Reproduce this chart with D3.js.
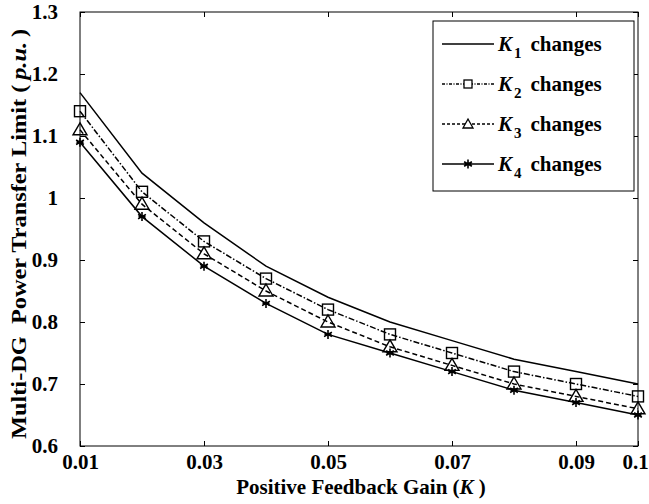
<!DOCTYPE html>
<html>
<head>
<meta charset="utf-8">
<script src="https://cdn.jsdelivr.net/npm/d3@7"></script>
<style>
  body { margin: 0; background: #fff; }
  text { font-family: "Liberation Serif", "Times New Roman", serif; font-weight: bold; }
</style>
</head>
<body>
<svg id="chart" width="649" height="504"></svg>
<script>
// values
const gains = [0.01, 0.02, 0.03, 0.04, 0.05, 0.06, 0.07, 0.08, 0.09, 0.1];
const k1 = [1.17, 1.04, 0.96, 0.89, 0.84, 0.80, 0.77, 0.74, 0.72, 0.70];
const k2 = [1.14, 1.01, 0.93, 0.87, 0.82, 0.78, 0.75, 0.72, 0.70, 0.68];
const k3 = [1.11, 0.99, 0.91, 0.85, 0.80, 0.76, 0.73, 0.70, 0.68, 0.66];
const k4 = [1.09, 0.97, 0.89, 0.83, 0.78, 0.75, 0.72, 0.69, 0.67, 0.65];
const xTicks = [0.01, 0.03, 0.05, 0.07, 0.09, 0.1];
const yTicks = [0.6, 0.7, 0.8, 0.9, 1.0, 1.1, 1.2, 1.3];

const series = [
  { sub: "1", values: k1, dash: null, marker: null },
  { sub: "2", values: k2, dash: "6,2,1.5,2", marker: "square" },
  { sub: "3", values: k3, dash: "5,3", marker: "triangle" },
  { sub: "4", values: k4, dash: null, marker: "star" }
];

const svg = d3.select("#chart");
const pLeft = 80, pRight = 638, pTop = 12, pBottom = 446;

const x = d3.scaleLinear().domain([0.01, 0.1]).range([pLeft, pRight]);
const y = d3.scaleLinear().domain([0.6, 1.3]).range([pBottom, pTop]);

// frame
svg.append("rect")
  .attr("x", pLeft).attr("y", pTop)
  .attr("width", pRight - pLeft).attr("height", pBottom - pTop)
  .attr("fill", "none").attr("stroke", "#000").attr("stroke-width", 1);

// axes with inward ticks
const fmtX = d => d === 0.1 ? "0.1" : d3.format(".2f")(d);
const fmtY = d => d === 1 ? "1" : d3.format(".1f")(d);

const gx = svg.append("g").attr("transform", `translate(0,${pBottom})`)
  .call(d3.axisBottom(x).tickValues(xTicks).tickFormat(fmtX).tickSizeInner(-5).tickSizeOuter(0).tickPadding(8));
const gxTop = svg.append("g").attr("transform", `translate(0,${pTop})`)
  .call(d3.axisTop(x).tickValues(xTicks).tickFormat("").tickSizeInner(-5).tickSizeOuter(0));
const gy = svg.append("g").attr("transform", `translate(${pLeft},0)`)
  .call(d3.axisLeft(y).tickValues(yTicks).tickFormat(fmtY).tickSizeInner(-5).tickSizeOuter(0).tickPadding(22));
const gyRight = svg.append("g").attr("transform", `translate(${pRight},0)`)
  .call(d3.axisRight(y).tickValues(yTicks).tickFormat("").tickSizeInner(-5).tickSizeOuter(0));

[gx, gxTop, gy, gyRight].forEach(g => {
  g.select(".domain").remove();
  g.selectAll("line").attr("stroke", "#000");
  g.selectAll("text").attr("font-size", 21).attr("fill", "#000")
    .attr("font-family", "Liberation Serif").attr("font-weight", "bold");
});
// last x label sits against the right edge
gx.selectAll("text").filter(d => d === 0.1).attr("dx", -3);

// axis titles
svg.append("text")
  .attr("x", 361).attr("y", 494)
  .attr("text-anchor", "middle").attr("font-size", 21)
  .html('Positive Feedback Gain (<tspan font-style="italic">K</tspan> )');

svg.append("text")
  .attr("transform", `translate(26,234) rotate(-90)`)
  .attr("text-anchor", "middle").attr("font-size", 20)
  .attr("textLength", 410).attr("lengthAdjust", "spacingAndGlyphs")
  .html('Multi-DG&#160; Power Transfer Limit (&#8201;<tspan font-style="italic">p.u.</tspan>&#8201;)');

// markers
function drawMarker(g, type, cx, cy) {
  if (type === "square") {
    g.append("rect").attr("x", cx - 5.5).attr("y", cy - 5.5)
      .attr("width", 11).attr("height", 11)
      .attr("fill", "none").attr("stroke", "#000").attr("stroke-width", 1.4);
  } else if (type === "triangle") {
    g.append("path")
      .attr("d", `M${cx},${cy - 7}L${cx + 7},${cy + 5}L${cx - 7},${cy + 5}Z`)
      .attr("fill", "none").attr("stroke", "#000").attr("stroke-width", 1.4);
  } else if (type === "star") {
    const r = 4.5;
    const d = [0, 60, 120].map(a => {
      const t = (a + 90) * Math.PI / 180;
      return `M${cx - r * Math.cos(t)},${cy - r * Math.sin(t)}L${cx + r * Math.cos(t)},${cy + r * Math.sin(t)}`;
    }).join("") + `M${cx - 3.5},${cy}L${cx + 3.5},${cy}`;
    g.append("path").attr("d", d).attr("stroke", "#000").attr("stroke-width", 1.6);
  }
}

const line = d3.line().x((d, i) => x(gains[i])).y(d => y(d));

series.forEach(s => {
  const g = svg.append("g");
  g.append("path")
    .attr("d", line(s.values))
    .attr("fill", "none").attr("stroke", "#000").attr("stroke-width", 1.5)
    .attr("stroke-dasharray", s.dash);
  if (s.marker) {
    s.values.forEach((v, i) => drawMarker(g, s.marker, x(gains[i]), y(v)));
  }
});

// legend
const lg = svg.append("g");
lg.append("rect")
  .attr("x", 433).attr("y", 21).attr("width", 201).attr("height", 170)
  .attr("fill", "#fff").attr("stroke", "#000").attr("stroke-width", 1);

series.forEach((s, i) => {
  const ly = 44 + i * 40;
  lg.append("line")
    .attr("x1", 442).attr("x2", 494).attr("y1", ly).attr("y2", ly)
    .attr("stroke", "#000").attr("stroke-width", 1.5)
    .attr("stroke-dasharray", s.dash ? (s.marker === "square" ? "3,1.5,1,1.5" : "3,2") : null);
  if (s.marker) {
    const m = lg.append("g");
    if (s.marker === "square") {
      m.append("rect").attr("x", 464).attr("y", ly - 4).attr("width", 8).attr("height", 8)
        .attr("fill", "#fff").attr("stroke", "#000").attr("stroke-width", 1.3);
    } else if (s.marker === "triangle") {
      m.append("path").attr("d", `M468,${ly - 5}L473,${ly + 4}L463,${ly + 4}Z`)
        .attr("fill", "#fff").attr("stroke", "#000").attr("stroke-width", 1.3);
    } else {
      drawMarker(m, "star", 468, ly);
    }
  }
  lg.append("text")
    .attr("x", 498).attr("y", ly + 7).attr("font-size", 21)
    .html(`<tspan font-style="italic">K</tspan><tspan font-size="15" dy="7" dx="2">${s.sub}</tspan><tspan dy="-7" dx="9">changes</tspan>`);
});
</script>
</body>
</html>
